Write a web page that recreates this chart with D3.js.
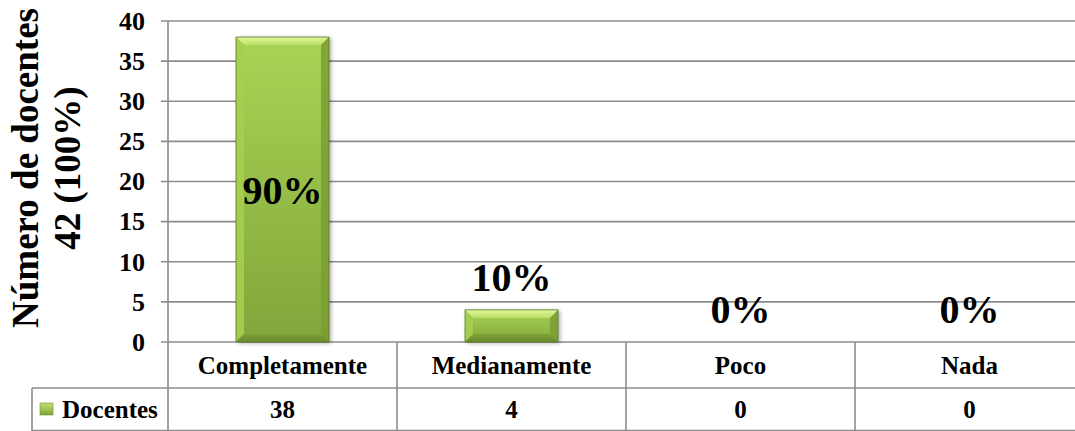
<!DOCTYPE html>
<html>
<head>
<meta charset="utf-8">
<script src="https://cdn.jsdelivr.net/npm/d3@7"></script>
<style>
  body { margin: 0; background: #fff; }
  svg { display: block; }
  text { font-family: "Liberation Serif", "Times New Roman", serif; font-weight: bold; fill: #000; }
</style>
</head>
<body>
<script>
// data
const categories = ["Completamente", "Medianamente", "Poco", "Nada"];
const docentes = [38, 4, 0, 0];
const percents = ["90%", "10%", "0%", "0%"];
const yTicks = [0, 5, 10, 15, 20, 25, 30, 35, 40];
const seriesName = "Docentes";
const axisTitle = ["Número de docentes", "42 (100%)"];

const W = 1075, H = 431;
const plotL = 168, plotR = 1084, plotT = 21, plotB = 342;
const rowMid = 388, tableB = 431;
const grid = "#8c8c8c";

const svg = d3.select("body").append("svg")
    .attr("width", W)
    .attr("height", H);

// Scales
const x = d3.scaleBand().domain(categories).range([plotL, plotR]).paddingInner(0.594).paddingOuter(0.297);
const col = d3.scaleBand().domain(categories).range([plotL, plotR]).padding(0);
const y = d3.scaleLinear().domain([0, 40]).range([plotB, plotT]);

// gradients
const defs = svg.append("defs");
function grad(id, stops, vertical) {
    let g = defs.append("linearGradient").attr("id", id)
        .attr("x1", 0).attr("y1", 0)
        .attr("x2", vertical ? 0 : 1).attr("y2", vertical ? 1 : 0);
    stops.forEach(s => g.append("stop").attr("offset", s[0]).attr("stop-color", s[1]));
}
grad("barFill", [[0, "#a9d455"], [1, "#82a63a"]], true);
grad("bevTop", [[0, "#e3f79c"], [1, "#b9df66"]], true);
grad("bevBot", [[0, "#7a9e33"], [1, "#62842a"]], true);
grad("legFill", [[0, "#c4e276"], [1, "#7fa338"]], true);

let shadow = defs.append("filter").attr("id", "shadow")
    .attr("x", "-20%").attr("y", "-20%").attr("width", "150%").attr("height", "140%");
shadow.append("feDropShadow").attr("dx", 2).attr("dy", 1).attr("stdDeviation", 2)
    .attr("flood-color", "#000").attr("flood-opacity", 0.35);

// Gridlines + tick marks
svg.append("g")
    .selectAll("line")
    .data(yTicks)
    .enter().append("line")
    .attr("x1", plotL - 7)
    .attr("x2", plotR)
    .attr("y1", d => y(d))
    .attr("y2", d => y(d))
    .attr("stroke", grid)
    .attr("stroke-width", 1.6);

// y axis (labels only, lines drawn above)
const yAxis = svg.append("g")
    .attr("transform", `translate(${plotL - 7},0)`)
    .call(d3.axisLeft(y).tickValues(yTicks).tickSize(0).tickPadding(16));
yAxis.select(".domain").remove();
yAxis.selectAll("text")
    .attr("font-size", 26)
    .attr("font-family", null)
    .style("font-family", "'Liberation Serif', 'Times New Roman', serif")
    .style("font-weight", "bold")
    .attr("fill", "#000");

// axis title
const title = svg.append("text")
    .attr("transform", "translate(0,168) rotate(-90)")
    .attr("text-anchor", "middle")
    .attr("font-size", 37);
title.append("tspan").attr("x", 0).attr("y", 38).text(axisTitle[0]);
title.append("tspan").attr("x", 0).attr("y", 80).text(axisTitle[1]);

// Table lines
const tbl = svg.append("g").attr("stroke", grid).attr("stroke-width", 1.6);
tbl.append("line").attr("x1", plotL).attr("x2", plotL).attr("y1", plotT).attr("y2", tableB);
tbl.selectAll(".vl")
    .data(categories)
    .enter().append("line")
    .attr("x1", d => col(d) + col.bandwidth())
    .attr("x2", d => col(d) + col.bandwidth())
    .attr("y1", plotB)
    .attr("y2", tableB);
tbl.append("line").attr("x1", 32).attr("x2", plotR).attr("y1", rowMid).attr("y2", rowMid);
tbl.append("line").attr("x1", 32).attr("x2", 32).attr("y1", rowMid).attr("y2", tableB);
tbl.append("line").attr("x1", 32).attr("x2", plotR).attr("y1", tableB - 0.5).attr("y2", tableB - 0.5);

// Bars with bevel
const bars = svg.append("g")
    .selectAll("g")
    .data(docentes.map((v, i) => ({ cat: categories[i], v: v, p: percents[i] })).filter(d => d.v > 0))
    .enter().append("g");

bars.append("rect")
    .attr("x", d => x(d.cat))
    .attr("y", d => y(d.v))
    .attr("width", x.bandwidth())
    .attr("height", d => y(0) - y(d.v))
    .attr("fill", "url(#barFill)")
    .attr("filter", "url(#shadow)");

const bev = 8;
bars.each(function(d) {
    const g = d3.select(this);
    const x0 = x(d.cat), x1 = x0 + x.bandwidth();
    const y0 = y(d.v), y1 = y(0);
    const b = Math.min(bev, (y1 - y0) / 2);
    const pts = (arr) => arr.map(p => p.join(",")).join(" ");
    g.append("polygon").attr("points", pts([[x0, y0], [x1, y0], [x1 - b, y0 + b], [x0 + b, y0 + b]]))
        .attr("fill", "url(#bevTop)");
    g.append("polygon").attr("points", pts([[x0, y0], [x0 + b, y0 + b], [x0 + b, y1 - b], [x0, y1]]))
        .attr("fill", "#a4cf4f").attr("opacity", 0.9);
    g.append("polygon").attr("points", pts([[x1, y0], [x1, y1], [x1 - b, y1 - b], [x1 - b, y0 + b]]))
        .attr("fill", "#7b9e34").attr("opacity", 0.85);
    g.append("polygon").attr("points", pts([[x0, y1], [x0 + b, y1 - b], [x1 - b, y1 - b], [x1, y1]]))
        .attr("fill", "url(#bevBot)").attr("opacity", 0.8);
    g.append("rect").attr("x", x0).attr("y", y0).attr("width", x1 - x0).attr("height", y1 - y0)
        .attr("fill", "none").attr("stroke", "#5b7a26").attr("stroke-width", 0.8);
});

// Percent labels
svg.append("g")
    .selectAll("text")
    .data(docentes.map((v, i) => ({ cat: categories[i], v: v, p: percents[i] })))
    .enter().append("text")
    .attr("x", d => x(d.cat) + x.bandwidth() / 2)
    .attr("y", d => d.v > 20 ? (y(d.v) + y(0)) / 2 : y(d.v) - 19)
    .attr("dy", d => d.v > 20 ? "0.35em" : 0)
    .attr("text-anchor", "middle")
    .attr("font-size", 40)
    .text(d => d.p);

// Table text
svg.append("g")
    .selectAll("text")
    .data(categories)
    .enter().append("text")
    .attr("x", d => col(d) + col.bandwidth() / 2)
    .attr("y", (plotB + rowMid) / 2)
    .attr("dy", "0.35em")
    .attr("text-anchor", "middle")
    .attr("font-size", 25)
    .text(d => d);

svg.append("g")
    .selectAll("text")
    .data(docentes)
    .enter().append("text")
    .attr("x", (d, i) => col(categories[i]) + col.bandwidth() / 2)
    .attr("y", (rowMid + tableB) / 2)
    .attr("dy", "0.35em")
    .attr("text-anchor", "middle")
    .attr("font-size", 25)
    .text(d => d);

// legend key
svg.append("rect")
    .attr("x", 40).attr("y", 403)
    .attr("width", 13).attr("height", 12)
    .attr("fill", "url(#legFill)")
    .attr("stroke", "#6d8f2e").attr("stroke-width", 0.6);
svg.append("text")
    .attr("x", 62)
    .attr("y", (rowMid + tableB) / 2)
    .attr("dy", "0.35em")
    .attr("font-size", 25)
    .text(seriesName);
</script>
</body>
</html>
